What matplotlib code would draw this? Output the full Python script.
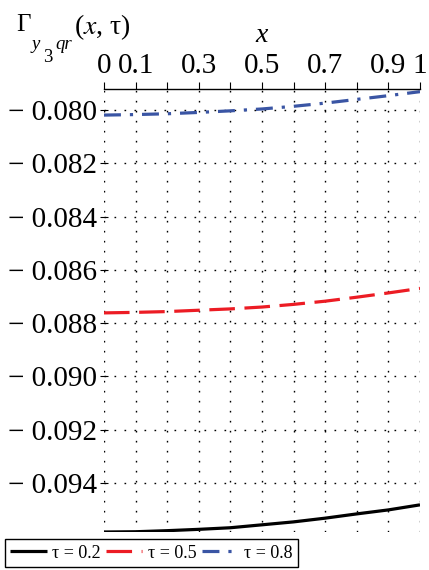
import numpy as np
import matplotlib
matplotlib.use('Agg')
import matplotlib.pyplot as plt
from matplotlib.ticker import FuncFormatter

# Gamma_{y3 qr}(x, tau) along x for three time values
x = [0.0, 0.1, 0.2, 0.3, 0.4, 0.5, 0.6, 0.7, 0.8, 0.9, 1.0]
gamma_t02 = [-0.09585, -0.09584, -0.09580, -0.09575, -0.09569, -0.09558,
             -0.09547, -0.09533, -0.09517, -0.09502, -0.09483]
gamma_t05 = [-0.08762, -0.08760, -0.08757, -0.08752, -0.08747, -0.08740,
             -0.08730, -0.08718, -0.08703, -0.08687, -0.08670]
gamma_t08 = [-0.08019, -0.08017, -0.08014, -0.08009, -0.08003, -0.07996,
             -0.07986, -0.07974, -0.07960, -0.07946, -0.07931]
tau_labels = ['τ = 0.2', 'τ = 0.5', 'τ = 0.8']

xticks = [0.0, 0.1, 0.2, 0.3, 0.4, 0.5, 0.6, 0.7, 0.8, 0.9, 1.0]
xtick_labels = ['0', '0.1', '', '0.3', '', '0.5', '', '0.7', '', '0.9', '1']
yticks = [-0.094, -0.092, -0.090, -0.088, -0.086, -0.084, -0.082, -0.080]

plt.rcParams['font.family'] = ['Liberation Serif', 'DejaVu Serif']
plt.rcParams['mathtext.fontset'] = 'stix'

W, H = 429, 570
fig = plt.figure(figsize=(W / 100, H / 100), dpi=100)
ax = fig.add_axes([104 / W, 1 - 532 / H, 316 / W, 443 / H])

lw = 2.3
l1, = ax.plot(x, gamma_t02, color='black', lw=lw, solid_capstyle='butt')
l2, = ax.plot(x, gamma_t05, color='#ec1c24', lw=lw, dashes=(8, 3))
l3, = ax.plot(x, gamma_t08, color='#3a55a4', lw=lw, dashes=(5.3, 2.8, 1, 2.8))

ax.set_xlim(0, 1)
ax.set_ylim(-0.09585, -0.07921)

# axis line on top, dotted grid everywhere else
for side in ['left', 'right', 'bottom']:
    ax.spines[side].set_visible(False)
ax.spines['top'].set_linewidth(1.0)

ax.xaxis.tick_top()
ax.set_xticks(xticks)
ax.set_xticklabels(xtick_labels)
ax.tick_params(axis='x', direction='out', length=5, width=0.8, pad=2,
               labelsize=21)
ax.set_yticks(yticks)
ax.yaxis.set_major_formatter(FuncFormatter(lambda v, p: '\u2212 %.3f' % abs(v)))
ax.tick_params(axis='y', direction='inout', length=6, width=0.8, pad=2,
               labelsize=21)

ax.grid(True, color='black', lw=1.0, linestyle=(0, (1.2, 6)))

def put(px, py, s, size, **kw):
    fig.text(px / W, 1 - py / H, s, fontsize=size, ha='left', va='baseline', **kw)

# axis names
fig.text(262 / W, 1 - 36 / H, 'x', fontsize=20, style='italic',
         ha='center', va='center')
put(16, 31, 'Γ', 18)
put(32, 49, 'y', 13.5, style='italic')
put(43.5, 62, '3', 13.5)
put(55, 49, 'qr', 13.5, style='italic')
put(74, 34, '($x$, τ)', 20)

leg = fig.legend([l1, l2, l3], tau_labels, ncol=3, loc='lower left',
                 bbox_to_anchor=(5 / W, 3 / H), borderaxespad=0,
                 fontsize=13, handlelength=2.0, handletextpad=0.33,
                 columnspacing=0.28, borderpad=0.3, fancybox=False,
                 framealpha=1, edgecolor='black')
leg.get_frame().set_linewidth(1.0)

fig.savefig('out.png', dpi=100)
